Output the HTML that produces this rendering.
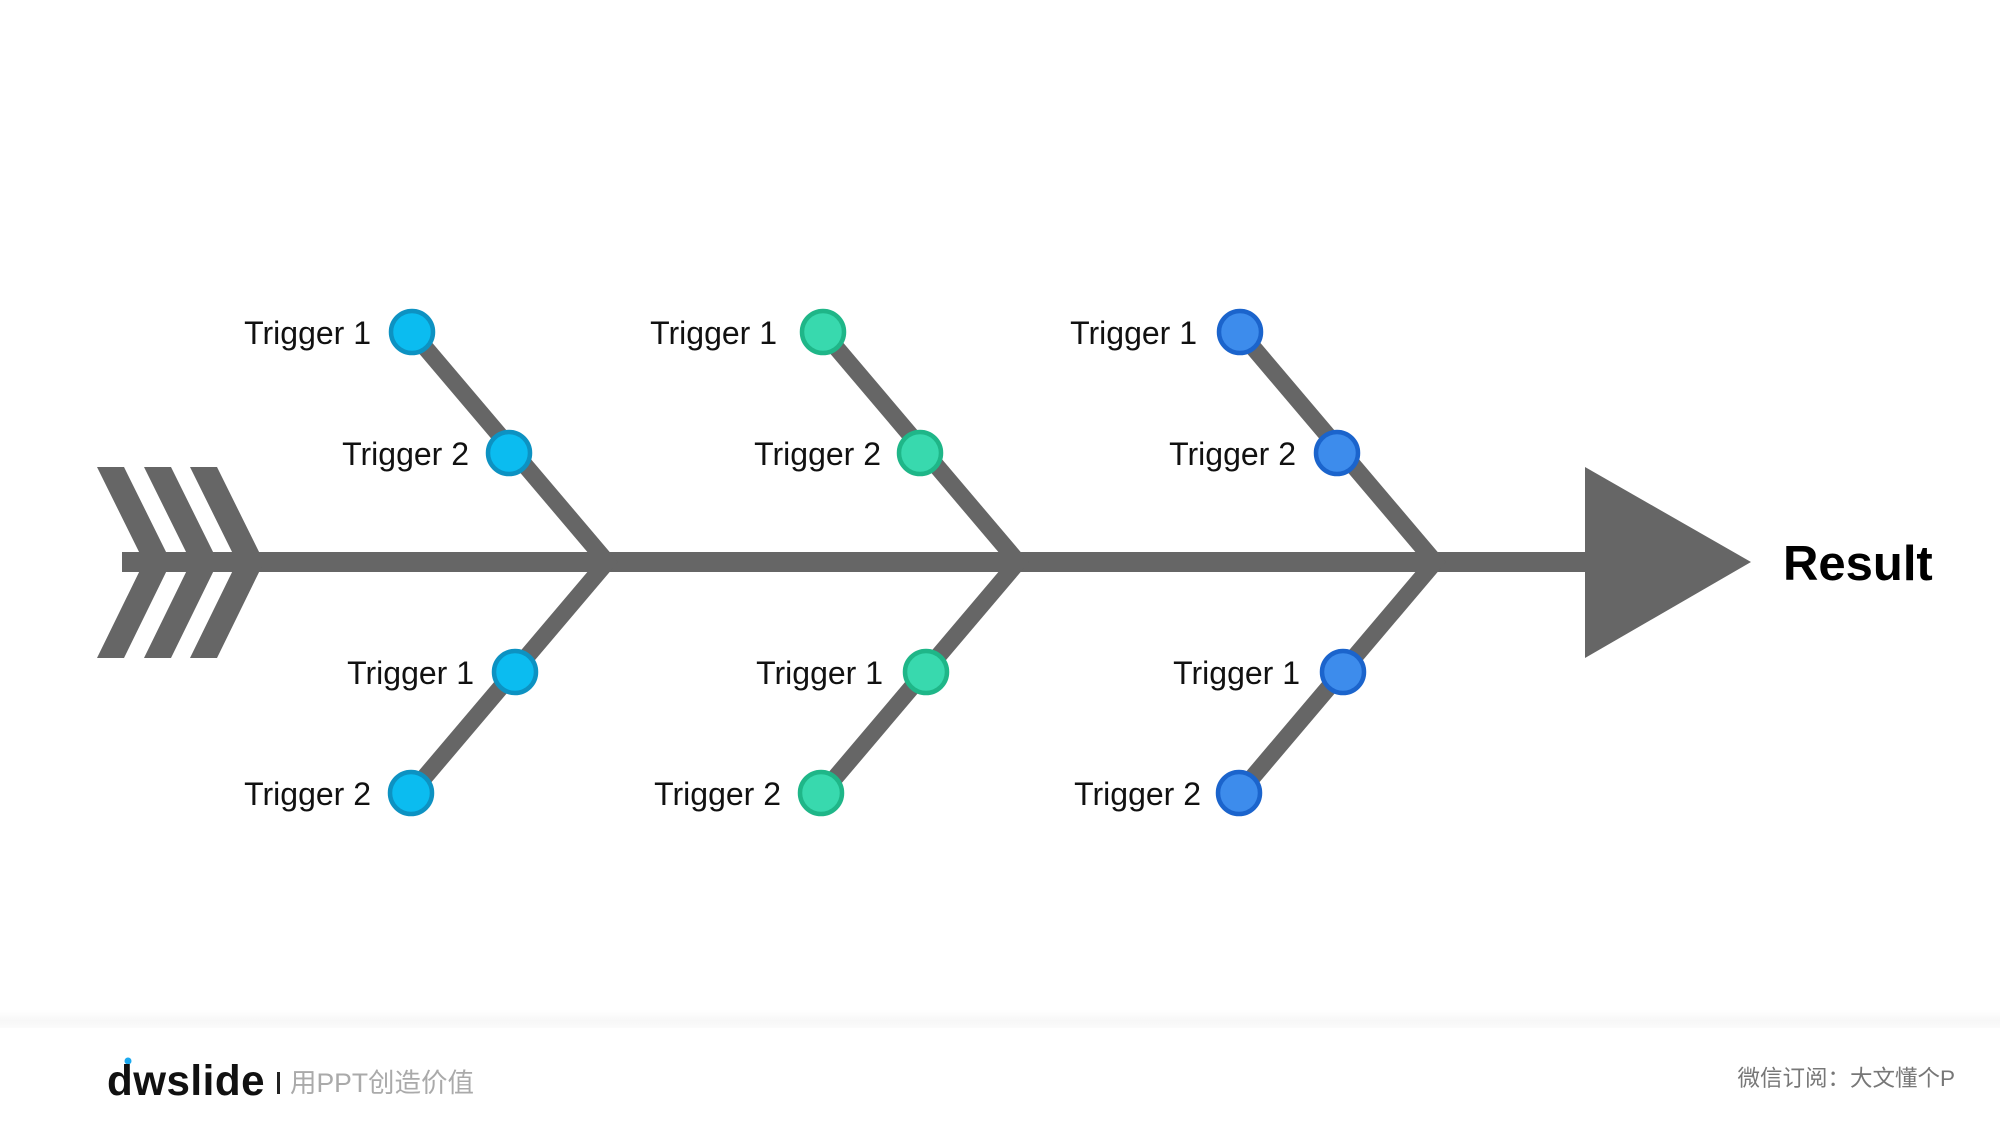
<!DOCTYPE html>
<html><head><meta charset="utf-8"><style>
body{margin:0;width:2000px;height:1125px;background:#fff;overflow:hidden;position:relative;font-family:"Liberation Sans","Noto Sans CJK SC",sans-serif}
.band{position:absolute;left:0;top:1010px;width:2000px;height:18px;background:linear-gradient(#fff,#f7f7f7 60%,#fbfbfb)}
</style></head><body>
<div class="band"></div>
<svg width="2000" height="1125" style="position:absolute;left:0;top:0" xmlns="http://www.w3.org/2000/svg">
<g fill="#666">
<rect x="122" y="552" width="1470" height="20"/>
<polygon points="97,467 124,467 171,562 124,658 97,658 144,562"/>
<polygon points="144,467 171,467 218,562 171,658 144,658 191,562"/>
<polygon points="190,467 217,467 264,562 217,658 190,658 237,562"/>
<polygon points="1585,467 1751,562 1585,658"/>
</g>
<g stroke="#666" stroke-width="17" fill="none" stroke-linejoin="miter">
<polyline points="412,332 607,562 412,792"/>
<polyline points="823,332 1018,562 823,792"/>
<polyline points="1240,332 1435,562 1240,792"/>
</g>
<g stroke-width="4.5">
<g fill="#0bbcf0" stroke="#0d92c2">
<circle cx="412" cy="332" r="21"/><circle cx="509" cy="453" r="21"/><circle cx="515" cy="672" r="21"/><circle cx="411" cy="793" r="21"/>
</g>
<g fill="#38d9ae" stroke="#1fb688">
<circle cx="823" cy="332" r="21"/><circle cx="920" cy="453" r="21"/><circle cx="926" cy="672" r="21"/><circle cx="821" cy="793" r="21"/>
</g>
<g fill="#3d8cec" stroke="#1b64cc">
<circle cx="1240" cy="332" r="21"/><circle cx="1337" cy="453" r="21"/><circle cx="1343" cy="672" r="21"/><circle cx="1239" cy="793" r="21"/>
</g>
</g>
<g font-family="Liberation Sans, sans-serif" font-size="32" fill="#111" text-anchor="end">
<text x="371" y="344">Trigger 1</text>
<text x="469" y="465">Trigger 2</text>
<text x="474" y="684">Trigger 1</text>
<text x="371" y="805">Trigger 2</text>
<text x="777" y="344">Trigger 1</text>
<text x="881" y="465">Trigger 2</text>
<text x="883" y="684">Trigger 1</text>
<text x="781" y="805">Trigger 2</text>
<text x="1197" y="344">Trigger 1</text>
<text x="1296" y="465">Trigger 2</text>
<text x="1300" y="684">Trigger 1</text>
<text x="1201" y="805">Trigger 2</text>
</g>
<text x="1783" y="580" font-family="Liberation Sans, sans-serif" font-weight="bold" font-size="49" fill="#000">Result</text>
<circle cx="128" cy="1061" r="3.5" fill="#1ba9ef"/>
<text x="107" y="1095" font-family="Liberation Sans, sans-serif" font-weight="bold" font-size="43" letter-spacing="0.5" textLength="158" lengthAdjust="spacingAndGlyphs" fill="#111">dwslide</text>
<rect x="277" y="1072" width="3" height="22" fill="#222"/>
<text x="290" y="1092" font-family="Liberation Sans, Noto Sans CJK SC, sans-serif" font-size="26.5" fill="#aaa">用PPT创造价值</text>
<text x="1955" y="1086" text-anchor="end" font-family="Liberation Sans, Noto Sans CJK SC, sans-serif" font-size="22.5" fill="#777">微信订阅：大文懂个P</text>
</svg>
</body></html>
